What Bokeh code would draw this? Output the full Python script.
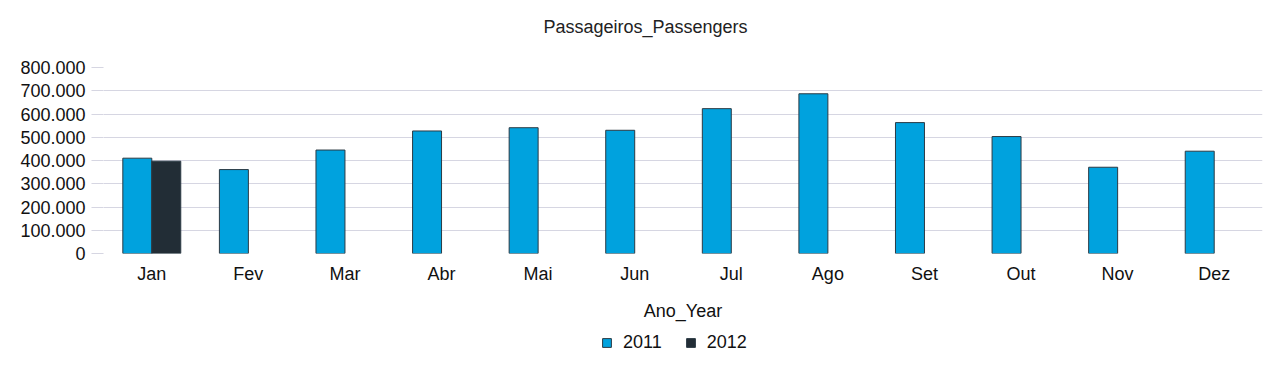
from bokeh.plotting import figure
from bokeh.layouts import column
from bokeh.models import ColumnDataSource, FactorRange, FixedTicker, CustomJSTickFormatter, Legend, LegendItem, Label
from bokeh.transform import dodge
from bokeh.embed import file_html
from bokeh.resources import INLINE

months = ["Jan", "Fev", "Mar", "Abr", "Mai", "Jun", "Jul", "Ago", "Set", "Out", "Nov", "Dez"]
values_2011 = [410000, 361000, 445000, 527000, 541000, 530000, 623000, 687000, 563000, 503000, 371000, 440000]
months_2012 = ["Jan"]
values_2012 = [397000]
y_ticks = [0, 100000, 200000, 300000, 400000, 500000, 600000, 700000, 800000]
series = ["2011", "2012"]

FONT = "Liberation Sans"
C2011 = "#00A2DE"
C2012 = "#222D36"
EDGE = "#2B3A44"
GRID = "#D6D6E2"
TXT = "#111111"
W = 1273

# ---- title strip ----
tf = figure(width=W, height=45, output_backend="svg", toolbar_location=None,
            x_axis_type=None, y_axis_type=None, min_border=0)
tf.outline_line_color = None
tf.grid.grid_line_color = None
tf.add_layout(Label(x=542, y=19, x_units="screen", y_units="screen", text="Passageiros_Passengers",
                    text_align="center", text_baseline="middle", text_font=FONT,
                    text_font_size="18px", text_color="#222222"))

# ---- main chart ----
src11 = ColumnDataSource(dict(month=months, v=values_2011))
src12 = ColumnDataSource(dict(month=months_2012, v=values_2012))

p = figure(x_range=FactorRange(*months), y_range=(0, 800000),
           frame_width=1159, frame_height=186, output_backend="svg", toolbar_location=None,
           min_border_left=103, min_border_right=11, min_border_top=22, min_border_bottom=75)
p.outline_line_color = None

p.vbar(x=dodge("month", -0.15, range=p.x_range), top="v", width=0.3, source=src11,
       fill_color=C2011, line_color=EDGE, line_width=1)
p.vbar(x=dodge("month", 0.15, range=p.x_range), top="v", width=0.3, source=src12,
       fill_color=C2012, line_color=EDGE, line_width=1)

p.xgrid.grid_line_color = None
p.ygrid.grid_line_color = GRID
p.ygrid.grid_line_width = 1.2

p.yaxis.ticker = FixedTicker(ticks=y_ticks)
p.yaxis.formatter = CustomJSTickFormatter(code="return tick.toString().replace(/\\B(?=(\\d{3})+(?!\\d))/g, '.');")
p.yaxis.axis_line_color = None
p.yaxis.major_tick_line_color = GRID
p.yaxis.major_tick_line_width = 1.2
p.yaxis.major_tick_out = 12
p.yaxis.major_tick_in = 0
p.yaxis.minor_tick_line_color = None
p.yaxis.major_label_standoff = 6
p.yaxis.major_label_text_font = FONT
p.yaxis.major_label_text_font_size = "18px"
p.yaxis.major_label_text_color = TXT

p.xaxis.axis_line_color = None
p.xaxis.major_tick_line_color = None
p.xaxis.minor_tick_line_color = None
p.xaxis.major_label_standoff = 4
p.xaxis.major_label_text_font = FONT
p.xaxis.major_label_text_font_size = "18px"
p.xaxis.major_label_text_color = TXT
p.xaxis.axis_label = "Ano_Year"
p.xaxis.axis_label_text_font = FONT
p.xaxis.axis_label_text_font_size = "18px"
p.xaxis.axis_label_text_font_style = "normal"
p.xaxis.axis_label_text_color = TXT
p.xaxis.axis_label_standoff = 14

# ---- legend strip ----
lf = figure(width=W, height=27, output_backend="svg", toolbar_location=None,
            x_axis_type=None, y_axis_type=None, min_border=0,
            x_range=(0, 1), y_range=(0, 1))
lf.outline_line_color = None
lf.grid.grid_line_color = None
e = ColumnDataSource(dict(x=[0.5], top=[-2], bottom=[-2]))
g1 = lf.vbar(x="x", top="top", bottom="bottom", width=0.0, source=e, fill_color=C2011, line_color=EDGE, line_width=1)
g2 = lf.vbar(x="x", top="top", bottom="bottom", width=0.0, source=e, fill_color=C2012, line_color=EDGE, line_width=1)
legend = Legend(items=[LegendItem(label=series[0], renderers=[g1]), LegendItem(label=series[1], renderers=[g2])],
                orientation="horizontal", location=(498, 2),
                label_text_font=FONT, label_text_font_size="18px", label_text_color=TXT,
                glyph_width=11, glyph_height=11, spacing=23, label_standoff=11, label_height=18,
                border_line_color=None, background_fill_alpha=0, padding=0, margin=0)
lf.add_layout(legend, "center")

layout = column(tf, p, lf, spacing=0)
open("out.html", "w").write(file_html(layout, INLINE))
